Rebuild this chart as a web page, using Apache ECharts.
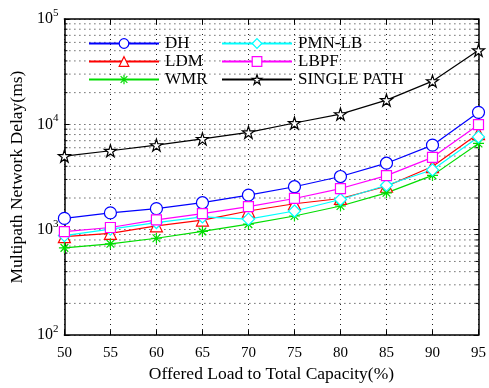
<!DOCTYPE html>
<html>
<head>
<meta charset="utf-8">
<script src="https://cdn.jsdelivr.net/npm/echarts@6/dist/echarts.min.js"></script>
<style>
  html, body { margin: 0; padding: 0; background: #fff; }
  #chart { width: 489px; height: 388px; }
</style>
</head>
<body>
<div id="chart"></div>
<script>
// offered load (%) on the x axis
const loads = [50, 55, 60, 65, 70, 75, 80, 85, 90, 95];

// delay values (ms)
const dh = [1280, 1445, 1585, 1805, 2130, 2560, 3200, 4280, 6350, 13000];
const ldm = [860, 925, 1090, 1235, 1505, 1765, 1980, 2585, 3980, 8180];
const wmr = [673, 735, 830, 964, 1130, 1350, 1680, 2240, 3280, 6590];
const pmnlb = [880, 1015, 1170, 1325, 1260, 1505, 1935, 2645, 3705, 7600];
const lbpf = [958, 1050, 1240, 1420, 1655, 1980, 2460, 3260, 4865, 9930];
const singlePath = [5000, 5620, 6350, 7280, 8410, 10300, 12500, 17000, 25700, 50400];

const FONT = "'Liberation Serif', 'DejaVu Serif', serif";
const xMin = 50, xMax = 95;

const colors = {
  'DH': '#0000ff',
  'LDM': '#ff0000',
  'WMR': '#00dd00',
  'PMN-LB': '#00ffff',
  'LBPF': '#ff00ff',
  'SINGLE PATH': '#000000',
};

// 2..9 x 10^k positions for the dotted minor grid of the log axis
const minorValues = [];
for (let e = 2; e < 5; e++) {
  for (let m = 2; m <= 9; m++) minorValues.push(m * Math.pow(10, e));
}

const asterisk = 'path://M0,-1L0,1M-1,0L1,0M-0.7,-0.7L0.7,0.7M-0.7,0.7L0.7,-0.7';
const pentagram = 'path://M0,-1L0.2245,-0.309L0.951,-0.309L0.363,0.118L0.588,0.809L0,0.382L-0.588,0.809L-0.363,0.118L-0.951,-0.309L-0.2245,-0.309Z';

const pair = (arr) => loads.map((x, i) => [x, arr[i]]);

const lineSeries = (name, data, symbol, size) => ({
  name,
  type: 'line',
  data: pair(data),
  symbol,
  symbolSize: size,
  clip: false,
  z: 5,
  lineStyle: { color: colors[name], width: 1.2 },
  itemStyle: { color: '#fff', borderColor: colors[name], borderWidth: 1.2, opacity: 1 },
  emphasis: { disabled: true },
});

const chart = echarts.init(document.getElementById('chart'), null, { renderer: 'canvas' });

const dotted = { color: '#222', width: 1, type: [1, 4] };
const legendBase = {
  orient: 'vertical',
  top: 30,
  itemWidth: 70,
  itemHeight: 12,
  itemGap: 1,
  textStyle: { fontFamily: FONT, fontSize: 17, color: '#000', padding: [0, 0, 0, 1] },
  itemStyle: { borderWidth: 1.2 },
};

const option = {
  animation: false,
  backgroundColor: '#fff',
  textStyle: { fontFamily: FONT },
  grid: { left: 64, right: 9, top: 19, bottom: 49 },
  legend: [
    Object.assign({ data: ['DH', 'LDM', 'WMR'], left: 83 }, legendBase),
    Object.assign({ data: ['PMN-LB', 'LBPF', 'SINGLE PATH'], left: 216 }, legendBase),
  ],
  xAxis: [
    {
      type: 'value',
      min: xMin,
      max: xMax,
      interval: 5,
      name: 'Offered Load to Total Capacity(%)',
      nameLocation: 'middle',
      nameGap: 29,
      nameTextStyle: { fontFamily: FONT, fontSize: 17.5, color: '#000' },
      axisLine: { lineStyle: { color: '#000', width: 1.5 } },
      axisTick: { inside: true, length: 5, lineStyle: { color: '#000' } },
      axisLabel: { fontFamily: FONT, fontSize: 15, color: '#000', margin: 10 },
      splitLine: { show: true, lineStyle: dotted },
    },
    {
      type: 'value',
      position: 'top',
      min: xMin,
      max: xMax,
      interval: 5,
      axisLine: { lineStyle: { color: '#000', width: 1.5 } },
      axisTick: { inside: true, length: 5, lineStyle: { color: '#000' } },
      axisLabel: { show: false },
      splitLine: { show: false },
    },
  ],
  yAxis: [
    {
      type: 'log',
      logBase: 10,
      min: 100,
      max: 100000,
      name: 'Multipath Network Delay(ms)',
      nameLocation: 'middle',
      nameGap: 38,
      nameTextStyle: { fontFamily: FONT, fontSize: 17.5, color: '#000' },
      axisLine: { lineStyle: { color: '#000', width: 1.5 } },
      axisTick: { inside: true, length: 5, lineStyle: { color: '#000' } },
      axisLabel: {
        color: '#000',
        margin: 6,
        formatter: (v) => '{b|10}{s|' + Math.round(Math.log10(v)) + '}',
        rich: {
          b: { fontFamily: FONT, fontSize: 16, color: '#000' },
          s: { fontFamily: FONT, fontSize: 11, color: '#000', padding: [0, 0, 12, 0] },
        },
      },
      splitLine: { show: true, lineStyle: dotted },
    },
    {
      type: 'log',
      logBase: 10,
      position: 'right',
      min: 100,
      max: 100000,
      axisLine: { lineStyle: { color: '#000', width: 1.5 } },
      axisTick: { inside: true, length: 5, lineStyle: { color: '#000' } },
      axisLabel: { show: false },
      splitLine: { show: false },
    },
  ],
  series: [
    {
      type: 'custom',
      silent: true,
      z: 1,
      clip: false,
      data: minorValues.map((v) => [xMin, v]),
      renderItem: (params, api) => {
        const v = api.value(1);
        const l = api.coord([xMin, v]);
        const r = api.coord([xMax, v]);
        return {
          type: 'group',
          children: [
            { type: 'line', shape: { x1: l[0], y1: l[1], x2: r[0], y2: r[1] }, style: { stroke: '#222', lineWidth: 1, lineDash: [1, 4] } },
            { type: 'line', shape: { x1: l[0], y1: l[1], x2: l[0] + 3, y2: l[1] }, style: { stroke: '#000', lineWidth: 1 } },
            { type: 'line', shape: { x1: r[0] - 3, y1: r[1], x2: r[0], y2: r[1] }, style: { stroke: '#000', lineWidth: 1 } },
          ],
        };
      },
    },
    lineSeries('DH', dh, 'circle', 12),
    lineSeries('LDM', ldm, 'triangle', 12),
    lineSeries('WMR', wmr, asterisk, 11),
    lineSeries('PMN-LB', pmnlb, 'diamond', 12),
    lineSeries('LBPF', lbpf, 'rect', 10),
    lineSeries('SINGLE PATH', singlePath, pentagram, 12),
  ],
};

chart.setOption(option);
</script>
</body>
</html>
